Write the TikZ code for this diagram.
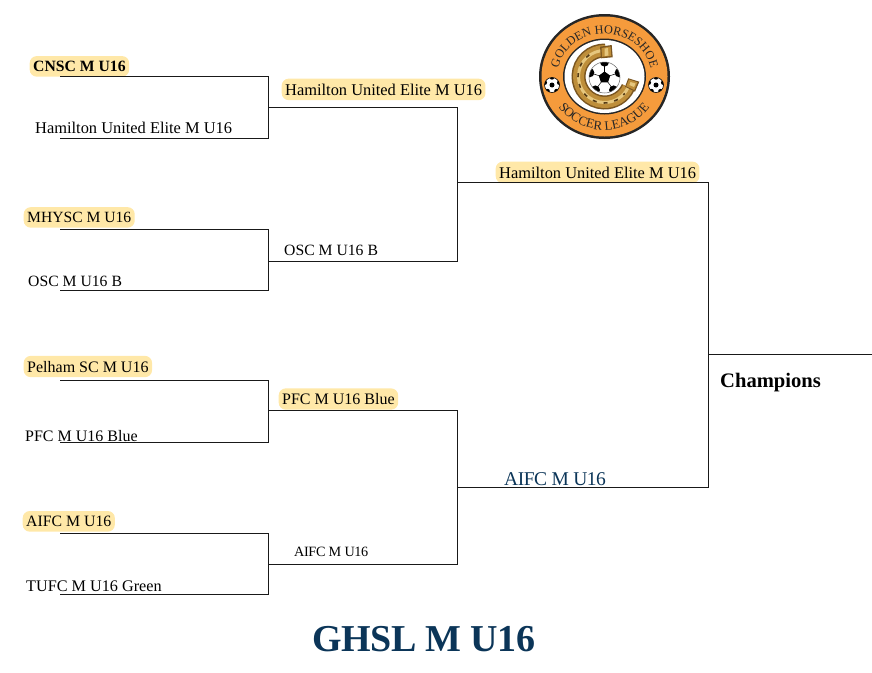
\documentclass[tikz,border=0pt]{standalone}
\usepackage{fontspec}
\setmainfont{Liberation Serif}
\usetikzlibrary{decorations.text}
\definecolor{hl}{HTML}{FFE8A8}
\definecolor{navy}{HTML}{0B3558}
\definecolor{logoor}{HTML}{F59B3C}
\definecolor{gold}{HTML}{BE8E3A}
\definecolor{goldlt}{HTML}{E6C77E}
\definecolor{golddk}{HTML}{7A5520}
\newcommand{\fsz}[1]{\fontsize{#1}{16}\selectfont}
\tikzset{
  x=1pt,y=-1pt,
  line/.style={draw=black!90,line width=0.9pt},
  team/.style={anchor=base west,inner sep=0pt,font=\fsz{16.4},text=black},
  win/.style={team,fill=hl,rounded corners=7pt,inner xsep=3.5pt,inner ysep=5pt},
}
\begin{document}
\begin{tikzpicture}
\useasboundingbox (0,0) rectangle (872,672);
% logo
\begin{scope}[shift={(604.5,76.5)},y=1pt]
\fill[black!85] (0,0) circle[x radius=65.5,y radius=62.5];
\fill[logoor] (0,0) circle[x radius=63,y radius=60];
\fill[black!85] (0,0) circle[x radius=41.5,y radius=38];
\fill[white] (0,0) circle[x radius=40,y radius=36.5];
% horseshoe
\foreach \c/\w in {golddk/14,gold/11,goldlt/3}{
  \draw[\c,line width=\w pt] (88:26) arc[start angle=88,end angle=335,radius=26];
}
\fill[golddk] (-4.5,29.8) -- (7.2,31.5) -- (8.2,19.2) -- (-3.5,18.2) -- cycle;
\fill[gold] (-3,28.5) -- (6,30) -- (6.8,20.5) -- (-2.5,19.7) -- cycle;
\fill[goldlt] (0,28) -- (3.5,28.5) -- (4,21) -- (0,20.5) -- cycle;
\fill[golddk] (23.8,-1.8) -- (34.8,-5.2) -- (30.5,-15.2) -- (20.5,-10.2) -- cycle;
\fill[gold] (24.5,-3) -- (33,-5.8) -- (29.8,-13.5) -- (21.8,-9.8) -- cycle;
\fill[goldlt] (26,-5.5) -- (31,-7) -- (29.5,-10.5) -- (24.8,-8.5) -- cycle;
\draw[golddk!70!black,line width=1.6pt,dash pattern=on 4pt off 7pt] (125:26.5) arc[start angle=125,end angle=320,radius=26.5];
% ball
\begin{scope}
\clip (0,-1) circle (15.5);
\fill[white] (0,-1) circle (15.5);
\foreach \a in {90,162,234,306,18}{
  \draw[black,line width=.5pt] (0,-1)++(\a:5)--++(\a:7);
  \fill[black] (0,-1)++(\a:15.5) circle (4.6);
}
\fill[black] (0,-1)+(90:6)--+(162:6)--+(234:6)--+(306:6)--+(18:6)--cycle;
\end{scope}
\draw[black!60,line width=.5pt] (0,-1) circle (15.5);
% band text
\path[postaction={decorate,decoration={text along path,text align=center,
  text={|\fontsize{12.2}{14}\selectfont\color{black!85}|GOLDEN HORSESHOE}}}]
  (-47,3) arc[start angle=176,end angle=4,x radius=47,y radius=43];
\path[postaction={decorate,decoration={text along path,text align=center,
  text={|\fontsize{13}{14}\selectfont\color{black!85}|SOCCER LEAGUE}}}]
  (-48,-28) arc[start angle=-148,end angle=-32,x radius=56,y radius=54];
\foreach \sx in {-52.5,51.5}{
  \begin{scope}
  \clip (\sx,-8.5) circle (7.5);
  \fill[white] (\sx,-8.5) circle (7.5);
  \fill[black] (\sx,-8.5) circle (2.5);
  \foreach \a in {90,162,234,306,18}{\fill[black] (\sx,-8.5)++(\a:7.5) circle (2.2);}
  \end{scope}
  \draw[black,line width=.6pt] (\sx,-8.5) circle (7.5);
}
\end{scope}
% junction coordinates
\coordinate (a1) at (60,76); \coordinate (a1e) at (268.5,76);
\coordinate (a2) at (60,138); \coordinate (a2e) at (268.5,138);
\coordinate (am) at (268.5,107); \coordinate (ame) at (457.5,107);
\coordinate (b1) at (60,229); \coordinate (b1e) at (268.5,229);
\coordinate (b2) at (60,290); \coordinate (b2e) at (268.5,290);
\coordinate (bm) at (268.5,261); \coordinate (bme) at (457.5,261);
\coordinate (c1) at (60,380); \coordinate (c1e) at (268.5,380);
\coordinate (c2) at (60,442); \coordinate (c2e) at (268.5,442);
\coordinate (cm) at (268.5,410); \coordinate (cme) at (457.5,410);
\coordinate (d1) at (60,533); \coordinate (d1e) at (268.5,533);
\coordinate (d2) at (60,594); \coordinate (d2e) at (268.5,594);
\coordinate (dm) at (268.5,564); \coordinate (dme) at (457.5,564);
\coordinate (e) at (457.5,182); \coordinate (ee) at (708.5,182);
\coordinate (f) at (457.5,487); \coordinate (fe) at (708.5,487);
\coordinate (g) at (708.5,354); \coordinate (ge) at (872,354);
% labels
\node[win,font=\fsz{15.7}\bfseries] (n1) at (29.5,71.5) {CNSC M U16};
\node[team] (n2) at (35,133.5) {Hamilton United Elite M U16};
\node[win] (n3) at (281.5,95) {Hamilton United Elite M U16};
\node[win,font=\fsz{15.6}] (n4) at (23.5,222.5) {MHYSC M U16};
\node[team,font=\fsz{15.7}] (n5) at (28,286) {OSC M U16 B};
\node[team,font=\fsz{15.7}] (n6) at (284,255) {OSC M U16 B};
\node[win,font=\fsz{16}] (n7) at (23.5,372) {Pelham SC M U16};
\node[team,font=\fsz{16}] (n8) at (25,441) {PFC M U16 Blue};
\node[win,font=\fsz{16}] (n9) at (278.5,404.5) {PFC M U16 Blue};
\node[win,font=\fsz{15.8}] (n10) at (22.5,526.5) {AIFC M U16};
\node[team,font=\fsz{16.2}] (n11) at (26,591) {TUFC M U16 Green};
\node[team,font=\fsz{14.2}\addfontfeature{LetterSpace=-2.5}] (n12) at (294,556) {AIFC M U16};
\node[win] (n13) at (495.5,178) {Hamilton United Elite M U16};
\node[team,text=navy,font=\fsz{19.5}\addfontfeature{LetterSpace=-2.5}] (n14) at (504,485) {AIFC M U16};
\node[team,font=\fsz{20.6}\bfseries] (n15) at (720,387) {Champions};
\node[team,text=navy,font=\fsz{38}\bfseries\addfontfeature{LetterSpace=-1}] (n16) at (312,651) {GHSL M U16};
% bracket
\draw[line] (a1)--(a1e)--(a2e)--(a2);
\draw[line] (b1)--(b1e)--(b2e)--(b2);
\draw[line] (c1)--(c1e)--(c2e)--(c2);
\draw[line] (d1)--(d1e)--(d2e)--(d2);
\draw[line] (am)--(ame)--(bme)--(bm);
\draw[line] (cm)--(cme)--(dme)--(dm);
\draw[line] (e)--(ee)--(fe)--(f);
\draw[line] (g)--(ge);
\end{tikzpicture}
\end{document}
